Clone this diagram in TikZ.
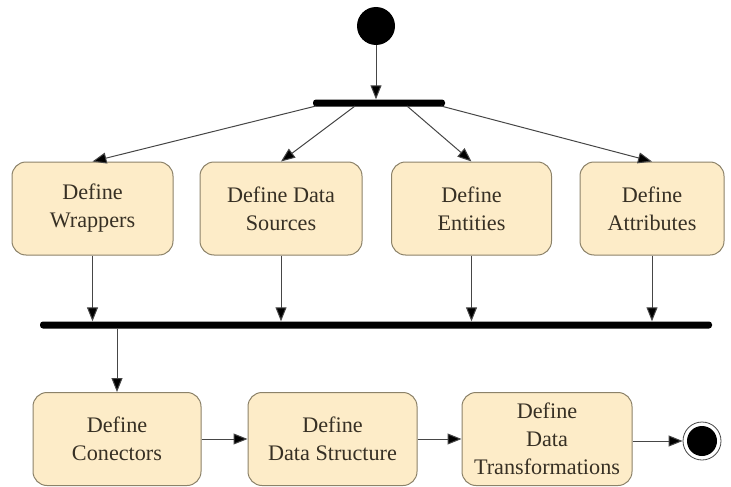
\documentclass[tikz,border=0pt]{standalone}
\usepackage{fontspec}
\newfontfamily\boxfont{Liberation Serif}
\usetikzlibrary{arrows.meta}

\definecolor{boxfill}{RGB}{253,236,200}
\definecolor{boxline}{RGB}{140,130,105}
\definecolor{boxtext}{RGB}{55,48,36}
\definecolor{flowline}{RGB}{70,70,70}

\tikzset{
    step box/.style={draw=boxline, fill=boxfill, line width=1pt, rounded corners=14pt,
        minimum height=93pt, inner sep=0pt, align=center, text=boxtext,
        font=\boxfont\fontsize{22.2}{28}\selectfont},
    sync bar/.style={fill=black, rounded corners=3pt, minimum height=7pt, inner sep=0pt},
    flow/.style={draw=flowline, line width=1pt, -{Triangle[length=14pt,width=11pt,fill=black]}},
}

\begin{document}
\begin{tikzpicture}[x=1pt, y=-1pt]
    \useasboundingbox (0,0) rectangle (731,487);

    % start and fork
    \node (start) [circle, fill=black, minimum size=38pt, inner sep=0pt] at (376, 26) {};
    \node (fork) [sync bar, minimum width=132pt] at (379, 103) {};
    \draw[flow] (start.south) -- (start.south |- fork.north);

    % parallel steps
    \node (wrap) [step box, minimum width=161pt] at (92.5, 208.5) {Define\\Wrappers};
    \node (src)  [step box, minimum width=162pt] at (281, 208.5) {Define Data\\Sources};
    \node (ent)  [step box, minimum width=160pt] at (471.5, 208.5) {Define\\Entities};
    \node (attr) [step box, minimum width=144pt] at (652, 208.5) {Define\\Attributes};

    \coordinate (f1) at (316, 106);
    \coordinate (f2) at (355, 106);
    \coordinate (f3) at (407, 106);
    \coordinate (f4) at (441, 106);
    \draw[flow] (f1) -- (wrap.north);
    \draw[flow] (f2) -- (src.north);
    \draw[flow] (f3) -- (ent.north);
    \draw[flow] (f4) -- (attr.north);

    % join
    \node (join) [sync bar, minimum width=672pt] at (376, 325) {};
    \foreach \n in {wrap, src, ent, attr}
        \draw[flow] (\n.south) -- (\n.south |- join.north);

    % sequential steps
    \node (conn)  [step box, minimum width=168pt] at (117, 439) {Define\\Conectors};
    \node (struc) [step box, minimum width=169pt] at (332.5, 439) {Define\\Data Structure};
    \node (trans) [step box, minimum width=170pt] at (547, 439) {Define\\Data\\Transformations};

    \draw[flow] (conn.north |- join.south) -- (conn.north);
    \draw[flow] (conn) -- (struc);
    \draw[flow] (struc) -- (trans);

    % end
    \node (endring) [circle, draw=flowline, line width=0.8pt, fill=white, minimum size=38pt, inner sep=0pt] at (702, 441) {};
    \node (enddot) [circle, fill=black, minimum size=30pt, inner sep=0pt] at (endring) {};
    \draw[flow] (trans.east |- endring) -- (endring.west);
\end{tikzpicture}
\end{document}
